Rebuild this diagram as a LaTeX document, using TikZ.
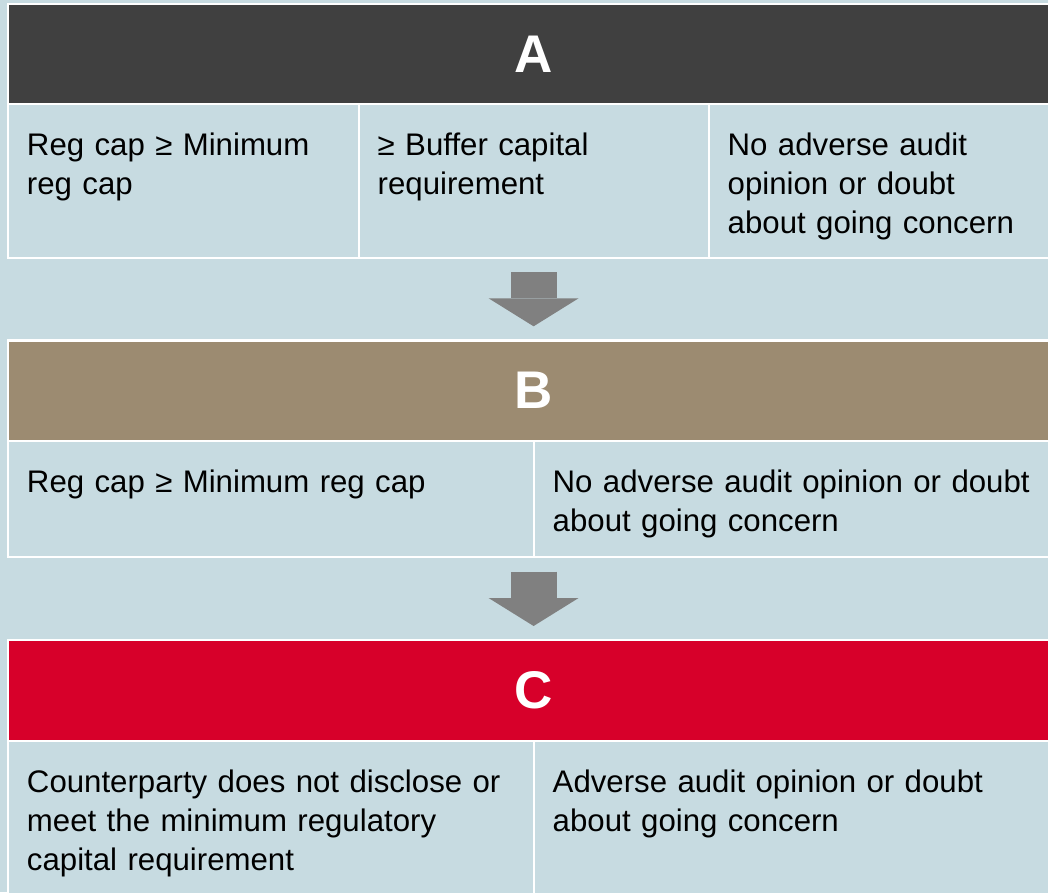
\documentclass[tikz,border=0pt]{standalone}
\usepackage{fontspec}
\setmainfont{Liberation Sans}
\usetikzlibrary{arrows.meta}

\definecolor{bgblue}{HTML}{C7DBE1}
\definecolor{hdrA}{HTML}{404040}
\definecolor{hdrB}{HTML}{9C8B71}
\definecolor{hdrC}{HTML}{D7002A}
\definecolor{flowgray}{HTML}{808080}

\begin{document}
\begin{tikzpicture}[x=1pt,y=-1pt,
  hdr/.style={draw=white,line width=2.2pt,anchor=north west,inner sep=0pt,minimum width=1051pt,minimum height=100.5pt,text=white,font=\fontsize{53}{60}\selectfont\bfseries},
  cell/.style 2 args={draw=white,line width=2.2pt,fill=bgblue,anchor=north west,inner sep=0pt,minimum width=#1,minimum height=#2},
  celltext/.style={anchor=base west,inner sep=0pt,text width=510pt,align=left,font=\fontsize{31.2}{39}\selectfont},
  flow/.style={draw=flowgray,line width=46pt,shorten <=13.5pt,shorten >=13pt,-{Triangle[length=28pt,width=90pt,line width=0pt]}}]
\useasboundingbox (0,0) rectangle (1048,892);
\clip (0,0) rectangle (1048,892);
\fill[bgblue] (0,0) rectangle (1048,892);

% level A
\node[hdr,fill=hdrA] (hA) at (7,2.5) {A};
\node[cell={351pt}{153.5pt}] (a1) at (7,103) {};
\node[cell={350pt}{153.5pt}] (a2) at (358,103) {};
\node[cell={350pt}{153.5pt}] (a3) at (708,103) {};
\node[celltext] (ta1) at ([xshift=19.8pt,yshift=-52pt]a1.north west) {Reg cap ≥ Minimum\\reg cap};
\node[celltext] (ta2) at ([xshift=19.5pt,yshift=-52pt]a2.north west) {≥ Buffer capital\\requirement};
\node[celltext] (ta3) at ([xshift=19.5pt,yshift=-52pt]a3.north west) {No adverse audit\\opinion or doubt\\about going concern};

% level B
\node[hdr,fill=hdrB] (hB) at (7,339.3) {B};
\node[cell={526pt}{116pt}] (b1) at (7,440) {};
\node[cell={525pt}{116pt}] (b2) at (533,440) {};
\node[celltext] (tb1) at ([xshift=19.8pt,yshift=-52pt]b1.north west) {Reg cap ≥ Minimum reg cap};
\node[celltext] (tb2) at ([xshift=19.5pt,yshift=-52pt]b2.north west) {No adverse audit opinion or doubt\\about going concern};

% level C
\node[hdr,fill=hdrC] (hC) at (7,639) {C};
\node[cell={526pt}{170pt}] (c1) at (7,740) {};
\node[cell={525pt}{170pt}] (c2) at (533,740) {};
\node[celltext] (tc1) at ([xshift=19.8pt,yshift=-52pt]c1.north west) {Counterparty does not disclose or\\meet the minimum regulatory\\capital requirement};
\node[celltext] (tc2) at ([xshift=19.5pt,yshift=-52pt]c2.north west) {Adverse audit opinion or doubt\\about going concern};

% arrows between levels
\draw[flow] (hB.north |- a2.south) -- (hB.north);
\draw[flow] (hC.north |- b1.south) -- (hC.north);
\end{tikzpicture}
\end{document}
